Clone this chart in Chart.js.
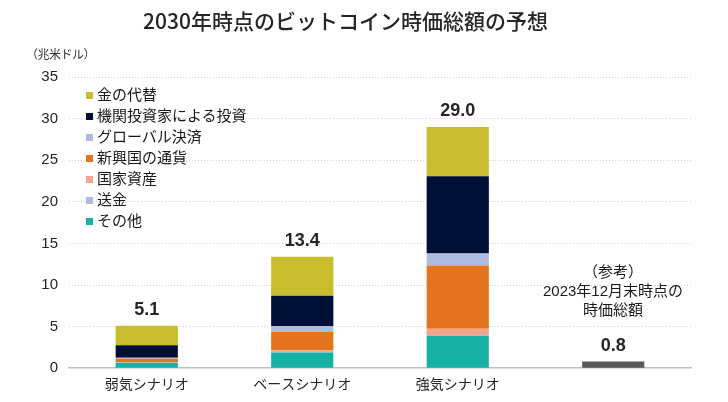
<!DOCTYPE html>
<html lang="ja">
<head>
<meta charset="utf-8">
<script src="https://cdn.jsdelivr.net/npm/chart.js@4/dist/chart.umd.min.js"></script>
<style>
  html, body { margin: 0; padding: 0; background: #fff; }
  #wrap { position: relative; width: 728px; height: 402px; }
  #legend { position: absolute; left: 86px; top: 83px; font: 15px "Noto Sans CJK JP", sans-serif; color: #1a1a1a; }
  #legend div { height: 21px; line-height: 21px; white-space: nowrap; }
  #legend span { display: inline-block; width: 7px; height: 7px; margin-right: 4px; vertical-align: 1px; }
  #unit { position: absolute; left: 26px; top: 45px; font: 12px "Noto Sans CJK JP", sans-serif; color: #333; letter-spacing: -0.5px; }
  #note { position: absolute; left: 533px; top: 262px; width: 160px; text-align: center; font: 15px/19px "Liberation Sans", "Noto Sans CJK JP", sans-serif; color: #1a1a1a; }
</style>
</head>
<body>
<div id="wrap">
  <canvas id="myChart" width="728" height="402"></canvas>
  <div id="unit">（兆米ドル）</div>
  <div id="legend"></div>
  <div id="note">（参考）<br>2023年12月末時点の<br>時価総額</div>
</div>
<script>
// categories
const scenarios = ["弱気シナリオ", "ベースシナリオ", "強気シナリオ", ""];

// series, bottom of the stack first
const seriesNames = ["その他", "送金", "国家資産", "新興国の通貨", "グローバル決済", "機関投資家による投資", "金の代替"];
const seriesColors = ["#17b1a6", "#afbce0", "#f4a58c", "#e4751e", "#afbce0", "#000f35", "#c8bd2f"];

const other      = [0.65, 1.9, 3.9];
const remittance = [0.03, 0.05, 0.1];
const stateAsset = [0.05, 0.2, 0.75];
const emerging   = [0.4, 2.2, 7.6];
const payments   = [0.12, 0.7, 1.45];
const institute  = [1.5, 3.65, 9.3];
const gold       = [2.35, 4.7, 5.9];

const refValue = [null, null, null, 0.8];
const totals = ["5.1", "13.4", "29.0", "0.8"];
const yTicks = [0, 5, 10, 15, 20, 25, 30, 35];

const seriesData = [other, remittance, stateAsset, emerging, payments, institute, gold];

const datasets = seriesNames.map((name, i) => ({
  label: name,
  data: seriesData[i],
  backgroundColor: seriesColors[i],
  borderWidth: 0,
  stack: "s"
}));
datasets.push({
  label: "参考",
  data: refValue,
  backgroundColor: "#595959",
  borderWidth: 0,
  stack: "s"
});

// html legend, top item = top of stack
const legendEl = document.getElementById("legend");
for (let i = seriesNames.length - 1; i >= 0; i--) {
  const row = document.createElement("div");
  row.innerHTML = '<span style="background:' + seriesColors[i] + '"></span>' + seriesNames[i];
  legendEl.appendChild(row);
}

const totalLabels = {
  id: "totalLabels",
  afterDatasetsDraw(chart) {
    const ctx = chart.ctx;
    const y = chart.scales.y;
    const x = chart.scales.x;
    ctx.save();
    ctx.font = "bold 18px 'Liberation Sans', sans-serif";
    ctx.fillStyle = "#262626";
    ctx.textAlign = "center";
    ctx.textBaseline = "bottom";
    totals.forEach((t, i) => {
      ctx.fillText(t, x.getPixelForValue(i), y.getPixelForValue(parseFloat(t)) - 7);
    });
    ctx.restore();
  }
};

const ctx = document.getElementById("myChart").getContext("2d");
const myChart = new Chart(ctx, {
  type: "bar",
  data: { labels: scenarios, datasets: datasets },
  options: {
    responsive: false,
    animation: false,
    layout: { padding: { left: 0, right: 37, top: 0, bottom: 3 } },
    datasets: { bar: { categoryPercentage: 1, barPercentage: 0.4 } },
    plugins: {
      legend: { display: false },
      tooltip: { enabled: false },
      title: {
        display: true,
        text: "2030年時点のビットコイン時価総額の予想",
        font: { family: "'Noto Sans CJK JP', sans-serif", size: 21, weight: "500" },
        color: "#262626",
        padding: { top: 8, bottom: 44 }
      }
    },
    scales: {
      x: {
        stacked: true,
        grid: { display: false, drawTicks: false },
        border: { color: "#bfbfbf", width: 1.5 },
        ticks: {
          padding: 7,
          color: "#262626",
          font: { family: "'Noto Sans CJK JP', sans-serif", size: 14 }
        }
      },
      y: {
        stacked: true,
        min: 0,
        max: 35,
        afterBuildTicks: (s) => { s.ticks = yTicks.map(v => ({ value: v })); },
        afterFit: (s) => { s.width = 69; },
        grid: {
          color: (c) => c.tick && c.tick.value === 0 ? "rgba(0,0,0,0)" : "#d0d0d0",
          drawTicks: false
        },
        border: { display: false, dash: [1, 2] },
        ticks: {
          padding: 11,
          color: "#262626",
          font: { family: "'Liberation Sans', sans-serif", size: 15 }
        }
      }
    }
  },
  plugins: [totalLabels]
});
</script>
</body>
</html>
